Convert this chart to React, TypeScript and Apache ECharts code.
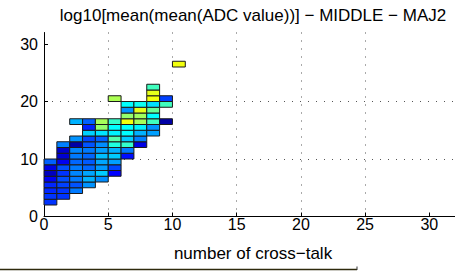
import React, { useEffect, useRef } from "react";
import * as echarts from "echarts";

// x bins (number of cross-talk) of each stacked column
const columnX = [0, 1, 2, 3, 4, 5, 6, 7, 8];
// lowest y bin of each column
const columnBottom = [2, 3, 4, 5, 6, 7, 10, 12, 14];
// colour level (0 = dark blue ... 10 = yellow) of each cell, bottom to top
const columnLevels = [
  [2.8, 2.8, 2.6, 2.6, 1.8, 1.0, 1.6, 3.5],
  [2.8, 2.8, 3.0, 3.2, 2.8, 3.2, 1.8, 1.3, 1.2, 4.0],
  [3.9, 3.3, 3.9, 4.1, 3.9, 3.6, 3.9, 4.1, 0.6, 4.3],
  [4.3, 4.8, 4.6, 3.6, 3.4, 3.6, 3.9, 3.3, 3.1, 5.3, 2.5, 3.5],
  [4.2, 5.2, 4.4, 4.6, 5.0, 4.5, 4.2, 3.5, 5.6, 8.3, 8.6],
  [2.0, 3.1, 4.5, 5.2, 4.8, 6.5, 7.3, 5.8, 6.0, 6.8],
  [2.2, 3.9, 6.8, 5.2, 6.0, 6.0, 9.8, 8.3, 4.3, 6.0],
  [1.6, 4.0, 4.8, 5.8, 8.6, 8.5, 9.6, 6.2],
  [4.5, 4.3, 7.0, 6.0, 7.6, 5.5, 9.8, 9.6, 7.0],
];
// isolated cells
const extraX = [2, 5, 9, 9, 9, 10];
const extraY = [16, 20, 16, 19, 20, 26];
const extraLevel = [4.8, 8.7, 0.6, 7.0, 3.0, 9.8];

const xTicks = [0, 5, 10, 15, 20, 25, 30];
const yTicks = [0, 10, 20, 30];

const TITLE = "log10[mean(mean(ADC value))] \u2212 MIDDLE \u2212 MAJ2";
const XLABEL = "number of cross\u2212talk";

const jetColors = [
  "#000080", "#0000BF", "#0000FF", "#0040FF", "#0080FF", "#00BFFF",
  "#00FFFF", "#40FFBF", "#80FF80", "#BFFF40", "#FFFF00",
];

export default function App() {
  const ref = useRef<HTMLDivElement>(null);
  useEffect(() => {
    if (!ref.current) return;
    const chart = echarts.init(ref.current, null, { renderer: "svg" });
    const data: number[][] = [];
    columnX.forEach((x, i) => {
      columnLevels[i].forEach((lv, k) => data.push([x, columnBottom[i] + k, lv]));
    });
    extraX.forEach((x, i) => data.push([x, extraY[i], extraLevel[i]]));

    const font = "Liberation Sans";
    const gridLine = { color: "#555", type: [1, 7], width: 1 };
    chart.setOption({
      animation: false,
      textStyle: { fontFamily: font },
      grid: { left: 44, top: 32.5, width: 418, height: 184 },
      visualMap: {
        show: false,
        dimension: 2,
        min: 0,
        max: 10,
        seriesIndex: 0,
        inRange: { color: jetColors },
      },
      xAxis: {
        type: "value",
        min: 0,
        max: 32,
        interval: 5,
        axisLine: { show: true, lineStyle: { color: "#000", width: 1 } },
        axisTick: { show: true, inside: true, length: 4, lineStyle: { color: "#000" }, customValues: xTicks },
        axisLabel: { color: "#000", fontSize: 16, margin: 0, fontFamily: font, customValues: xTicks },
        splitLine: { show: true, showMinLine: false, showMaxLine: false, lineStyle: gridLine },
      },
      yAxis: {
        type: "value",
        min: 0,
        max: 32,
        interval: 10,
        axisLine: { show: true, lineStyle: { color: "#000", width: 1 } },
        axisTick: { show: true, inside: true, length: 4, lineStyle: { color: "#000" }, customValues: yTicks },
        axisLabel: { color: "#000", fontSize: 16, margin: 6, fontFamily: font, customValues: yTicks },
        splitLine: { show: true, showMinLine: false, showMaxLine: false, lineStyle: gridLine },
      },
      series: [
        {
          type: "custom",
          encode: { x: 0, y: 1 },
          data,
          renderItem: (params: any, api: any) => {
            const x = api.value(0);
            const y = api.value(1);
            const p0 = api.coord([x, y + 1]);
            const p1 = api.coord([x + 1, y]);
            return {
              type: "rect",
              shape: { x: p0[0], y: p0[1], width: p1[0] - p0[0], height: p1[1] - p0[1] },
              style: { fill: api.visual("color"), stroke: "#1a1a1a", lineWidth: 1 },
            };
          },
        },
      ],
      graphic: [
        {
          type: "text",
          x: 253,
          y: 15,
          style: {
            text: TITLE,
            fontSize: 17,
            fontFamily: font,
            fill: "#000",
            align: "center",
            verticalAlign: "middle",
          },
        },
        {
          type: "text",
          x: 253,
          y: 253,
          style: {
            text: XLABEL,
            fontSize: 17,
            fontFamily: font,
            fill: "#000",
            align: "center",
            verticalAlign: "middle",
          },
        },
        {
          type: "line",
          shape: { x1: 0, y1: 269.5, x2: 357, y2: 269.5 },
          style: { stroke: "#2e2a0c", lineWidth: 1.5 },
        },
        {
          type: "line",
          shape: { x1: 357, y1: 266.5, x2: 357, y2: 270 },
          style: { stroke: "#333", lineWidth: 1 },
        },
      ],
    });
    return () => chart.dispose();
  }, []);
  return (
    <div
      ref={ref}
      style={{ position: "absolute", left: 0, top: 0, width: 455, height: 271, background: "#fff" }}
    />
  );
}
